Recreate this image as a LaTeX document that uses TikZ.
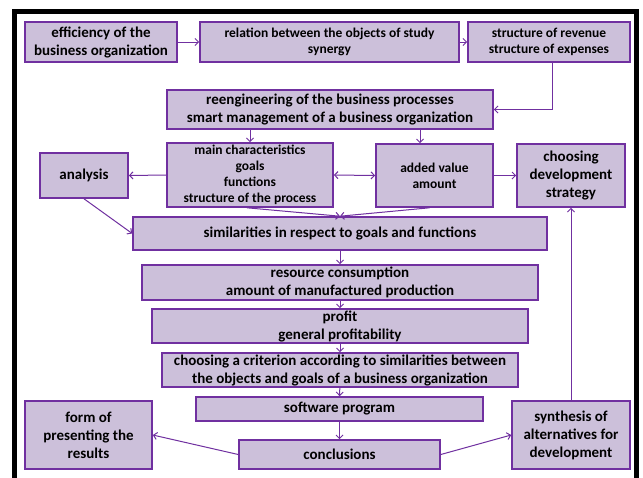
\documentclass[tikz,border=0pt]{standalone}
\usepackage{fontspec}
\setmainfont{Carlito}
\usetikzlibrary{arrows.meta}
\definecolor{boxline}{HTML}{7030A0}
\definecolor{boxfill}{HTML}{CCC0DA}
\begin{document}
\begin{tikzpicture}[x=1pt,y=-1pt,
  box/.style={draw=boxline, fill=boxfill, line width=1.6pt, align=center,
              inner sep=0pt, text=black},
  fbig/.style={font=\fontsize{15}{18}\selectfont\bfseries},
  fmid/.style={font=\fontsize{13.5}{16.2}\selectfont\bfseries},
  link/.style={draw=boxline, line width=1pt,
               -{Straight Barb[length=3.5pt,width=7pt]}},
  both/.style={draw=boxline, line width=1pt,
               {Straight Barb[length=3.5pt,width=7pt]}-{Straight Barb[length=3.5pt,width=7pt]}}]
\useasboundingbox (0,0) rectangle (643,477);
\fill[white] (0,0) rectangle (643,477);
% black frame, open at the bottom
\draw[line width=5.5pt] (14.5,480) -- (14.5,11.5) -- (636.5,11.5) -- (636.5,480);

% top row
\node[box,fbig,minimum width=152pt,minimum height=40pt] (eff) at (101,42)
  {efficiency of the\\business organization};
\node[box,fmid,minimum width=259pt,minimum height=40pt] (rel) at (329.5,42)
  {relation between the objects of study\\synergy};
\node[box,fmid,minimum width=162pt,minimum height=40pt] (str) at (549,42)
  {structure of revenue\\structure of expenses};

\node[box,fbig,minimum width=326pt,minimum height=39pt] (reen) at (330,109.5)
  {reengineering of the business processes\\smart management of a business organization};

% middle row
\node[box,fmid,minimum width=166pt,minimum height=64pt] (main) at (250,175)
  {main characteristics\\goals\\functions\\structure of the process};
\node[box,fbig,minimum width=88pt,minimum height=45pt] (ana) at (84,175.5)
  {analysis};
\node[box,fmid,minimum width=117pt,minimum height=63pt] (add) at (434.5,175.5)
  {added value\\amount};
\node[box,fbig,minimum width=108pt,minimum height=63pt] (cho) at (571,175.5)
  {choosing\\development\\strategy};

% central column
\node[box,fbig,minimum width=414pt,minimum height=33pt] (sim) at (340,233.5)
  {similarities in respect to goals and functions};
\node[box,fbig,minimum width=396pt,minimum height=35pt] (res) at (340,282.5)
  {resource consumption\\amount of manufactured production};
\node[box,fbig,minimum width=376pt,minimum height=34pt] (pro) at (340,326)
  {profit\\general profitability};
\node[box,fbig,minimum width=356pt,minimum height=34pt] (crit) at (340,370)
  {choosing a criterion according to similarities between\\the objects and goals of a business organization};
\node[box,fbig,minimum width=287pt,minimum height=24pt] (soft) at (339.5,409)
  {software program};
\node[box,fbig,minimum width=201pt,minimum height=29pt] (conc) at (339.5,454.5)
  {conclusions};

% bottom corners
\node[box,fbig,minimum width=127pt,minimum height=68pt] (form) at (88.5,435)
  {form of\\presenting the\\results};
\node[box,fbig,minimum width=118pt,minimum height=68pt] (syn) at (571,435)
  {synthesis of\\alternatives for\\development};

% connectors
\draw[link] (eff) -- (rel);
\draw[link] (rel) -- (str);
\draw[link] ([xshift=3pt]str.south) |- (reen.east);
\draw[link] (main.north |- reen.south) -- (main.north);
\draw[link] ([xshift=-14.5pt]add.north |- reen.south) -- ([xshift=-14.5pt]add.north);
\draw[link] (main.west) -- (ana.east);
\draw[both] (main.east) -- (add.west);
\draw[link] (add.east) -- (cho.west);
\draw[link] (ana.south) -- (sim.west);
\draw[link] ([xshift=-3pt]main.south) -- (sim.north);
\draw[link] ([xshift=-5pt]add.south) -- (sim.north);
\draw[link] (sim) -- (res);
\draw[link] (res) -- (pro);
\draw[link] (pro) -- (crit);
\draw[link] (crit) -- (soft);
\draw[link] (soft) -- (conc);
\draw[link] (conc.west) -- (form.east);
\draw[link] (conc.east) -- (syn.west);
\draw[link] (syn) -- (cho);
\end{tikzpicture}
\end{document}
